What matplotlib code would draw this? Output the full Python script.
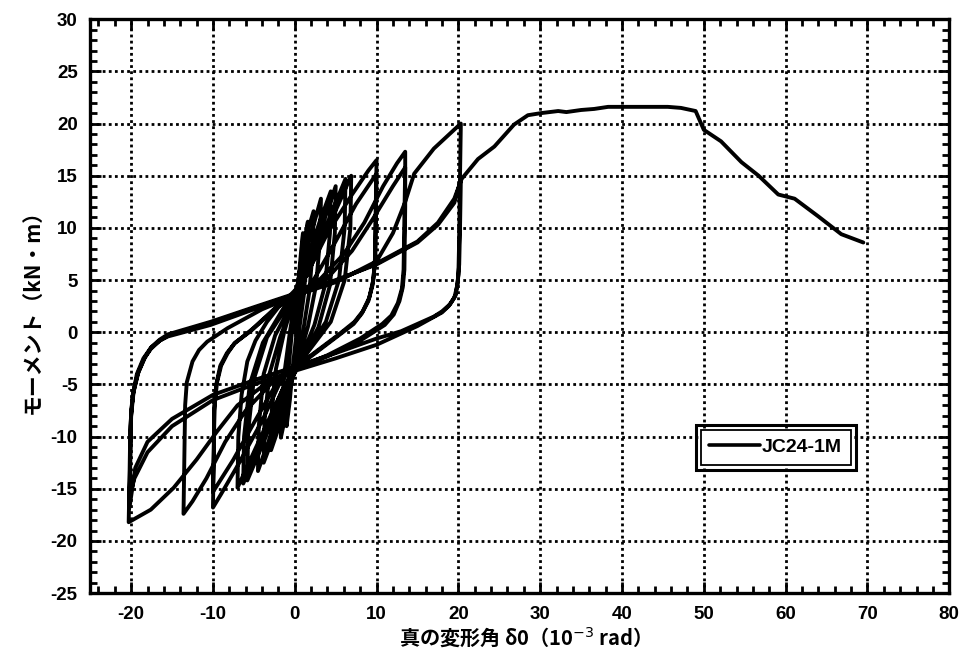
import matplotlib
matplotlib.use("Agg")
import matplotlib.pyplot as plt
from matplotlib.patches import Rectangle
from matplotlib.ticker import MultipleLocator

# ---------------- data ----------------
# small cycles around the origin
small_x = [0, 0.4, 0.8, 1.0,
           0.95, 0.7, 0.3, -0.2, -0.6, -1.0,
           -0.95, -0.7, -0.3, 0.2, 0.8, 1.3, 1.6,
           1.5, 1.1, 0.5, -0.2, -0.9, -1.4, -1.7,
           -1.6, -1.2, -0.6, 0.1, 0.9, 1.7, 2.3,
           2.2, 1.8, 1.1, 0.2, -0.8, -1.9, -2.5, -2.9,
           -2.8, -2.3, -1.3, 0, 1.0, 2.2, 3.2,
           3.1, 2.6, 1.6, 0.2, -1.2, -2.6, -3.8,
           -3.7, -3.1, -1.8, 0, 1.3, 3.0, 4.4,
           4.3, 3.7, 2.4, 0.3, -1.3, -3.0, -4.5,
           -4.4, -3.8, -2.4, 0, 1.5, 3.5, 5.0,
           4.9, 4.3, 2.9, 0.5, -1.5, -3.8, -5.8,
           -5.7, -5.0, -3.4, -0.5, 1.5, 4.0, 6.2,
           6.1, 5.4, 3.8, 1.0, -1.5, -4.0, -6.3,
           -6.2, -5.5, -3.9, -1.0, 1.5, 4.5, 6.9,
           6.8, 6.1, 4.4, 1.5, -1.5, -4.6, -7.0]
small_y = [0, 4.5, 8, 9.5,
           7, 3.5, 0.5, -3, -6.5, -9.0,
           -6.5, -3, 0.5, 3.5, 7, 9.3, 10.6,
           7.5, 3.5, 0, -3.5, -7, -9, -10.1,
           -7, -3.5, 0, 3.5, 7, 10, 11.6,
           8, 4, 0.5, -3, -6, -9, -10.4, -11.3,
           -7.5, -3.5, 0, 3.5, 6.5, 10, 12.8,
           9, 4.5, 0.5, -3.3, -6.5, -10, -12.5,
           -8.5, -4, -0.5, 3.3, 6.3, 10.5, 13.5,
           9.5, 4.5, 0.7, -3.3, -6.2, -10, -13.3,
           -9, -4, -0.3, 3.3, 6, 10.5, 14.0,
           9.5, 4.5, 0.5, -3.2, -6, -10.5, -14.2,
           -9.5, -4.5, -0.5, 3, 5.5, 10.5, 14.7,
           10, 5, 1, -2.5, -5.5, -10.2, -14.5,
           -10, -5, -1, 2.8, 5.5, 10.8, 15.0,
           10, 5, 1, -2, -5.5, -10.8, -14.9]

# cycles at about +-10
cyc10_x = [-6.9, -6.5, -5.8, -4.8, -3.4, -2, 1, 4, 7, 9, 10,
           9.9, 9.85, 9.6, 9.1, 8.3, 7.3, 5.4, 2, 0, -1.5, -4, -7, -9, -10,
           -9.9, -9.85, -9.6, -9.1, -8.3, -7.3, -5.4, -2, 0, 2, 4.5, 7.5, 10,
           9.9, 9.8, 9.5, 9, 8.2, 7.2, 5.2, 2, 0, -2, -4.5, -7.5, -10]
cyc10_y = [-10, -6, -2.8, -0.8, 1.0, 2.4, 4.8, 9.5, 13.2, 15.5, 16.5,
           12, 7.5, 5, 3.3, 2.0, 1.0, -0.2, -2.2, -3.3, -4.3, -8.5, -12.8, -15.5, -16.8,
           -12, -7.5, -5, -3.2, -2.0, -1.0, 0.1, 2.5, 3.4, 4.6, 8, 12.3, 15.2,
           11, 6.5, 4.5, 3, 1.8, 0.8, -0.4, -2.3, -3.4, -4.6, -8, -12.2, -15.3]

# cycles at about +-13.5
cyc13_x = [-9.9, -9.8, -9.5, -9, -8.2, -7.4, -5.2, -2, 0, 3, 6, 8.5, 10.8, 12.5, 13.5,
           13.5, 13.4, 13.2, 12.8, 12.1, 11, 8, 4, 0, -3, -6, -8.5, -10.8, -12.5, -13.6,
           -13.5, -13.4, -13.2, -12.5, -11.7, -10.7, -8.2, -4, 0, 4, 7, 9.5, 12, 13.5,
           13.4, 13.3, 13.1, 12.6, 11.8, 10.7, 8, 4, 0, -4, -7, -9.5, -12, -14.8, -17.6, -20.3]
cyc13_y = [-11, -7, -4.8, -3.2, -2.0, -1.1, 0.3, 2.6, 3.5, 5, 7.5, 10.5, 14, 16.2, 17.3,
           12, 6, 4.3, 3, 1.7, 0.7, -0.8, -2.3, -3.5, -5, -7.5, -10.5, -14, -16.2, -17.4,
           -12, -7, -4.8, -2.8, -1.7, -0.9, 0.4, 2.2, 3.5, 5.2, 7.8, 10.8, 14, 15.8,
           11, 6, 4.2, 2.8, 1.6, 0.8, -0.6, -2.2, -3.5, -5.2, -7, -9.5, -12.2, -14.9, -17, -18.2]

# cycles at about +-20
cyc20_x = [-20.2, -20.1, -19.8, -19.2, -18.4, -17.6, -16.5, -15.5, -10.3, -5, -1.7, 0, 5, 10, 12, 13.5, 14.6, 17, 20.3,
           20.2, 20.1, 20.0, 19.7, 19.0, 18, 17, 15, 13, 10, 5, 0, -5, -10, -15, -18, -19.5, -20.2,
           -20.1, -20.0, -19.7, -19.1, -18.3, -17.5, -16.5, -15.5, -10.3, -5, 0, 5, 10, 15, 17.5, 19.5, 20.3,
           20.2, 20.1, 19.9, 19.5, 18.8, 18, 15, 10, 5, 0, -5, -10, -15, -18, -19.6, -20.2]
cyc20_y = [-14, -9, -6, -4, -2.5, -1.6, -0.8, -0.4, 0.7, 2.2, 3.0, 3.5, 4.8, 6.8, 9.5, 12.5, 15.2, 17.6, 20,
           15, 9, 5.5, 3.6, 2.7, 2.0, 1.5, 0.8, 0.1, -0.6, -2, -3.3, -4.6, -6, -8.3, -10.5, -13, -16.8,
           -12, -8, -5.7, -3.8, -2.4, -1.4, -0.7, -0.2, 1.0, 2.4, 3.7, 5, 6.5, 8.6, 10.3, 12.4, 14.6,
           10, 6.5, 4.6, 3.3, 2.5, 1.9, 0.6, -1.2, -2.5, -3.7, -5, -6.5, -9, -11.5, -14, -15.8]

# final loading to large deformation
final_x = [-20.1, -20.0, -19.7, -19.3, -18.5, -17.6, -16.5, -15.5, -10.3, -5, 0, 5, 10, 15, 17.5, 19.5, 20.4,
           22.4, 24.4, 26.8, 28.5, 30.1, 32.2, 33.2, 35, 36.6, 38.3, 45.6, 47.2, 49,
           50, 52.1, 54.6, 56.7, 59.1, 61.1, 64, 66.8, 69.5]
final_y = [-11, -7.5, -5.6, -4.0, -2.5, -1.5, -0.8, -0.3, 0.9, 2.3, 3.6, 4.9, 6.6, 8.7, 10.5, 12.8, 14.7,
           16.6, 17.8, 19.9, 20.8, 21.0, 21.2, 21.1, 21.3, 21.4, 21.6, 21.6, 21.5, 21.2,
           19.4, 18.3, 16.3, 15.0, 13.2, 12.8, 11.1, 9.4, 8.6]

series_label = "JC24-1M"
x_ticks = [-20, -10, 0, 10, 20, 30, 40, 50, 60, 70, 80]
y_ticks = [-25, -20, -15, -10, -5, 0, 5, 10, 15, 20, 25, 30]

# ---------------- figure ----------------
plt.rcParams['font.family'] = ['Liberation Sans', 'Noto Sans CJK JP', 'DejaVu Sans']
plt.rcParams['axes.unicode_minus'] = False

fig = plt.figure(figsize=(9.6, 6.62), dpi=100)
ax = fig.add_axes([0.094, 0.104, 0.8948, 0.867])

xs = small_x + cyc10_x + cyc13_x + cyc20_x + final_x
ys = small_y + cyc10_y + cyc13_y + cyc20_y + final_y
ax.plot(xs, ys, color='black', lw=2.8, solid_joinstyle='round',
        solid_capstyle='round', label=series_label, zorder=3)

ax.set_xlim(-25, 80)
ax.set_ylim(-25, 30)
ax.set_xticks(x_ticks)
ax.set_yticks(y_ticks)
ax.set_xticklabels([str(t) for t in x_ticks])
ax.set_yticklabels([str(t) for t in y_ticks])
ax.xaxis.set_minor_locator(MultipleLocator(2))
ax.yaxis.set_minor_locator(MultipleLocator(1))

ax.grid(True, which='major', color='black', linestyle=(0, (1, 1.2)), lw=2.0, zorder=1)

ax.tick_params(which='both', direction='in', top=True, right=True, color='black')
ax.tick_params(which='major', length=8, width=2.0, labelsize=13.5, pad=9)
ax.tick_params(which='minor', length=5, width=2.0)
for lab in ax.get_xticklabels() + ax.get_yticklabels():
    lab.set_fontweight('bold')
for sp in ax.spines.values():
    sp.set_linewidth(2.4)

ax.set_xlabel("真の変形角 δ0（10$^{-3}$ rad）",
              family=['Noto Sans CJK JP', 'DejaVu Sans'],
              fontsize=14.5, fontweight='bold', labelpad=2)
ax.set_ylabel("モーメント（kN・m）",
              family=['Noto Sans CJK JP', 'DejaVu Sans'], fontsize=15, fontweight='bold', labelpad=6)

leg = ax.legend(loc='center', bbox_to_anchor=(0.798, 0.254), fontsize=14,
                handlelength=2.6, handletextpad=0.1, borderpad=0.45,
                fancybox=False, framealpha=1, edgecolor='black')
leg.get_frame().set_linewidth(1.3)
for t in leg.get_texts():
    t.set_fontweight('bold')
for h in leg.get_lines():
    h.set_linewidth(2.6)

fig.canvas.draw()
bb = leg.get_frame().get_window_extent()
pad = 5
x0, y0 = fig.transFigure.inverted().transform((bb.x0 - pad, bb.y0 - pad))
x1, y1 = fig.transFigure.inverted().transform((bb.x1 + pad, bb.y1 + pad))
fig.patches.append(Rectangle((x0, y0), x1 - x0, y1 - y0, transform=fig.transFigure,
                             fill=False, edgecolor='black', lw=2.2, zorder=10))

fig.savefig("out.png", dpi=100)
